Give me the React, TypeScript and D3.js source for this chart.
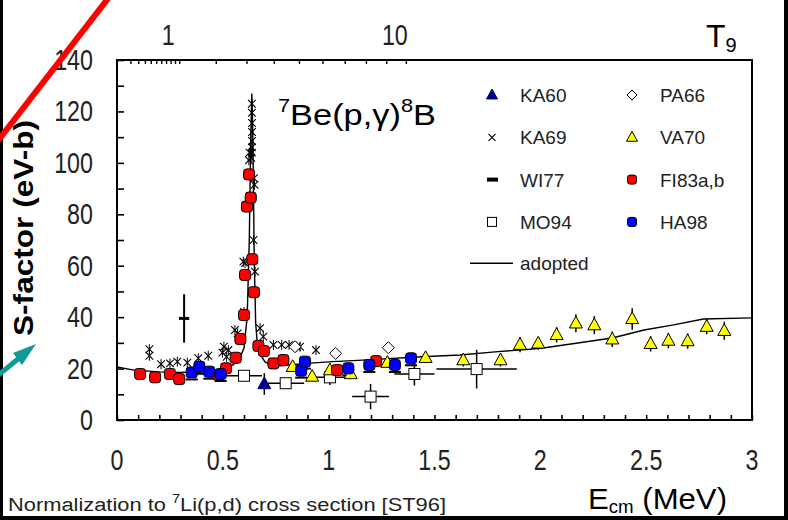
import { useEffect, useRef } from 'react'
import * as d3 from 'd3'

// adopted S-factor curve (E in MeV, S in eV-b)
const adoptedE = [0, 0.08, 0.2, 0.3, 0.4, 0.5, 0.55, 0.58, 0.6, 0.615, 0.625, 0.632, 0.637, 0.642, 0.648, 0.655, 0.665, 0.7, 0.75, 0.8, 0.93, 1.02, 1.16, 1.44, 1.62, 1.8, 1.95, 2.03, 2.34, 2.49, 2.63, 2.77, 3.0]
const adoptedS = [20.6, 19.4, 18.7, 18.5, 18.8, 19.8, 21.5, 24, 28, 40, 70, 110, 127, 110, 65, 38, 27, 22.5, 21, 21.3, 22.2, 22.7, 23.3, 24.6, 25.3, 26.6, 27.5, 28.2, 31.9, 35, 37, 39.3, 39.7]

const ka60: [number, number, number][] = [[0.696, 14.0, 4.2]]

const ka69: [number, number][] = [
  [0.153, 25], [0.153, 27.5], [0.208, 21.7], [0.25, 22], [0.285, 22.7], [0.332, 22.3],
  [0.384, 24], [0.431, 25], [0.498, 26.2], [0.505, 28.5], [0.518, 24.6], [0.526, 27.2],
  [0.557, 35], [0.57, 33.7], [0.6, 42], [0.597, 61.6], [0.605, 61], [0.645, 70],
  [0.652, 57.7], [0.647, 94], [0.65, 91.5], [0.626, 104], [0.623, 101], [0.634, 102],
  [0.637, 104], [0.637, 106], [0.638, 108.5], [0.638, 112], [0.638, 115.5], [0.637, 119.5],
  [0.637, 123], [0.676, 35.7], [0.691, 32.4], [0.739, 29.2], [0.778, 29.2], [0.813, 29.2],
  [0.849, 28.5], [0.865, 28.5], [0.94, 27.2],
]

const wi77: [number, number, number, number][] = [[0.317, 39.5, 0.024, 9.4]]

const mo94: [number, number, number, number][] = [
  [0.6, 17.2, 0.085, 0], [0.797, 14.3, 0.087, 0], [1.006, 16.6, 0.08, 3],
  [1.198, 9.1, 0.087, 4.9], [1.405, 17.9, 0.095, 4.5], [1.699, 19.8, 0.19, 7.5],
]

const pa66: [number, number][] = [[0.841, 28.5], [1.033, 25.9], [1.282, 28.1]]

const va70: [number, number, number][] = [
  [0.83, 20.7, 1.5], [0.922, 16.9, 1.5], [1.006, 19.4, 2], [1.104, 17.9, 1.5], [1.277, 22.3, 2],
  [1.458, 24.2, 2], [1.636, 23.3, 2.5], [1.812, 23.3, 2.5], [1.904, 29.3, 3], [1.99, 29.8, 2.5],
  [2.077, 33.1, 3], [2.168, 37.6, 3.5], [2.255, 36.9, 3.5], [2.34, 31.4, 3], [2.434, 39.3, 4.2],
  [2.521, 29.6, 3], [2.605, 30.9, 3], [2.696, 30.7, 3], [2.786, 36.3, 3], [2.869, 34.7, 3.5],
]

const fi83: [number, number][] = [
  [0.109, 17.9], [0.18, 16.6], [0.25, 17.9], [0.294, 15.9], [0.479, 17.5], [0.515, 20.1],
  [0.561, 24.2], [0.583, 31.5], [0.6, 40.8], [0.605, 56.4], [0.614, 83], [0.624, 95.5],
  [0.632, 86.5], [0.639, 62.5], [0.647, 49.7], [0.668, 28.8], [0.694, 26.8], [0.739, 22],
  [0.786, 23.3], [1.04, 19.4], [1.224, 22.9],
]

const ha98: [number, number][] = [
  [0.353, 18.5], [0.389, 20.7], [0.436, 18.8], [0.49, 17.9], [0.87, 19.2], [0.888, 22.7],
  [1.093, 20.1], [1.192, 21.4], [1.313, 21.4], [1.389, 24.0],
]

const xTickLabels = [0, 0.5, 1, 1.5, 2, 2.5, 3]
const yTickLabels = [0, 20, 40, 60, 80, 100, 120, 140]
const t9Ticks = [0.1, 0.2, 0.3, 0.4, 0.5, 0.6, 0.7, 0.8, 0.9, 1, 2, 3, 4, 5, 6, 7, 8, 9, 10]
const t9Labels = [1, 10]

const legendCol1 = ['KA60', 'KA69', 'WI77', 'MO94']
const legendCol2 = ['PA66', 'VA70', 'FI83a,b', 'HA98']

const WIDTH = 788
const HEIGHT = 520
const PLOT = { left: 117, right: 752, top: 60, bottom: 420 }
const SANS = "'Liberation Sans', Arial, sans-serif"
const GAMOW = 0.294 // E0 = 0.294 * T9^(2/3) MeV

type G = d3.Selection<SVGGElement, unknown, null, undefined>

function triangle(g: G, cx: number, cy: number, w: number, fill: string, stroke: string) {
  const h = w * 0.9
  g.append('path')
    .attr('d', `M${cx},${cy - h * 0.6}L${cx + w / 2},${cy + h * 0.4}L${cx - w / 2},${cy + h * 0.4}Z`)
    .attr('fill', fill)
    .attr('stroke', stroke)
    .attr('stroke-width', 1)
}

function square(g: G, cx: number, cy: number, s: number, fill: string, rx: number) {
  g.append('rect')
    .attr('x', cx - s / 2)
    .attr('y', cy - s / 2)
    .attr('width', s)
    .attr('height', s)
    .attr('rx', rx)
    .attr('fill', fill)
    .attr('stroke', '#000')
    .attr('stroke-width', 1)
}

function times(g: G, cx: number, cy: number, r: number) {
  g.append('path')
    .attr('d', `M${cx - r},${cy - r}L${cx + r},${cy + r}M${cx - r},${cy + r}L${cx + r},${cy - r}`)
    .attr('stroke', '#000')
    .attr('stroke-width', 1.1)
    .attr('fill', 'none')
}

function diamond(g: G, cx: number, cy: number, r: number) {
  g.append('path')
    .attr('d', `M${cx},${cy - r}L${cx + r},${cy}L${cx},${cy + r}L${cx - r},${cy}Z`)
    .attr('fill', '#fff')
    .attr('stroke', '#000')
    .attr('stroke-width', 1)
}

// tall, narrow-looking tick label like the original slide
function tallLabel(g: G, x: number, y: number, text: string, anchor: string) {
  g.append('text')
    .attr('transform', `translate(${x},${y}) scale(0.97,1.2)`)
    .attr('text-anchor', anchor)
    .attr('font-family', SANS)
    .attr('font-size', 24)
    .attr('fill', '#222')
    .text(text)
}

export default function App() {
  const svgRef = useRef<SVGSVGElement | null>(null)

  useEffect(() => {
    if (!svgRef.current) {
      return
    }
    const svg = d3.select(svgRef.current)
    svg.selectAll('*').remove()

    const x = d3.scaleLinear().domain([0, 3]).range([PLOT.left, PLOT.right])
    const y = d3.scaleLinear().domain([0, 140]).range([PLOT.bottom, PLOT.top])
    const tMax = Math.pow(3 / GAMOW, 1.5)
    const xTop = d3.scalePow().exponent(2 / 3).domain([0, tMax]).range([PLOT.left, PLOT.right])

    const root = svg.append('g') as G

    root.append('rect').attr('width', WIDTH).attr('height', HEIGHT).attr('fill', '#fff')

    // axes (tick marks inside the frame)
    const yAxis = root
      .append('g')
      .attr('transform', `translate(${PLOT.left},0)`)
      .call(d3.axisLeft(y).tickValues(d3.range(0, 141, 10)).tickSize(-7).tickSizeOuter(0).tickFormat(() => ''))
    yAxis.select('.domain').remove()
    yAxis.selectAll('line').attr('stroke', '#000').attr('stroke-width', 1.6)

    const xAxis = root
      .append('g')
      .attr('transform', `translate(0,${PLOT.bottom})`)
      .call(
        d3
          .axisBottom(x)
          .tickValues(d3.range(0, 31).map((d) => d / 10))
          .tickSize(-5)
          .tickSizeOuter(0)
          .tickFormat(() => ''),
      )
    xAxis.select('.domain').remove()
    xAxis.selectAll('line').attr('stroke', '#000').attr('stroke-width', 1.6)

    const topAxis = root
      .append('g')
      .attr('transform', `translate(0,${PLOT.top})`)
      .call(d3.axisTop(xTop).tickValues(t9Ticks).tickSize(-4).tickSizeOuter(0).tickFormat(() => ''))
    topAxis.select('.domain').remove()
    topAxis.selectAll('line').attr('stroke', '#000').attr('stroke-width', 1.4)

    const labels = root.append('g') as G
    yTickLabels.forEach((v) => tallLabel(labels, 93, y(v) + 10, String(v), 'end'))
    xTickLabels.forEach((v) => tallLabel(labels, x(v), 470, d3.format('~g')(v), 'middle'))
    t9Labels.forEach((v) => tallLabel(labels, xTop(v) - 11, 45, String(v), 'middle'))

    // frame
    root
      .append('rect')
      .attr('x', PLOT.left)
      .attr('y', PLOT.top)
      .attr('width', PLOT.right - PLOT.left)
      .attr('height', PLOT.bottom - PLOT.top)
      .attr('fill', 'none')
      .attr('stroke', '#000')
      .attr('stroke-width', 2)

    // adopted curve
    const line = d3
      .line<number>()
      .x((d) => x(adoptedE[d]))
      .y((d) => y(adoptedS[d]))
    root
      .append('path')
      .attr('d', line(d3.range(adoptedE.length)))
      .attr('fill', 'none')
      .attr('stroke', '#000')
      .attr('stroke-width', 1.4)

    const marks = root.append('g') as G

    // error bars
    const bar = (g: G, x1: number, y1: number, x2: number, y2: number, w: number) =>
      g
        .append('line')
        .attr('x1', x1)
        .attr('y1', y1)
        .attr('x2', x2)
        .attr('y2', y2)
        .attr('stroke', '#000')
        .attr('stroke-width', w)

    va70.forEach(([e, s, ds]) => bar(marks, x(e), y(s + ds), x(e), y(s - ds), 1.5))
    mo94.forEach(([e, s, de, ds]) => {
      bar(marks, x(e - de), y(s), x(e + de), y(s), 1.5)
      if (ds > 0) bar(marks, x(e), y(s + ds), x(e), y(s - ds), 1.5)
    })
    ka60.forEach(([e, s, ds]) => bar(marks, x(e), y(s + ds), x(e), y(s - ds), 1.5))
    wi77.forEach(([e, s, de, ds]) => {
      bar(marks, x(e), y(s + ds), x(e), y(s - ds), 2)
      bar(marks, x(e - de), y(s), x(e + de), y(s), 3)
    })
    ha98.forEach(([e, s]) => bar(marks, x(e) - 6, y(s) + 7, x(e) + 6, y(s) + 7, 2))
    ka69.forEach(([e, s]) => bar(marks, x(e), y(s) - 5, x(e), y(s) + 5, 1))

    // markers
    ka69.forEach(([e, s]) => times(marks, x(e), y(s), 3.8))
    pa66.forEach(([e, s]) => diamond(marks, x(e), y(s), 6))
    mo94.forEach(([e, s]) => square(marks, x(e), y(s), 11, '#fff', 0))
    va70.forEach(([e, s]) => triangle(marks, x(e), y(s), 13, '#ffff00', '#000'))
    fi83.forEach(([e, s]) => square(marks, x(e), y(s), 11, '#ff0000', 3))
    ha98.forEach(([e, s]) => square(marks, x(e), y(s), 11, '#0000ff', 3))
    ka60.forEach(([e, s]) => triangle(marks, x(e), y(s), 13, '#000080', '#000080'))

    // legend
    const legend = root.append('g') as G
    const rowY = (i: number) => 95 + i * 42.3
    const legendText = (tx: number, ty: number, name: string) =>
      legend.append('text').attr('x', tx).attr('y', ty).attr('font-family', SANS).attr('font-size', 19).attr('fill', '#222').text(name)
    legendCol1.forEach((name, i) => {
      const cy = rowY(i)
      if (i === 0) triangle(legend, 492, cy, 11, '#000080', '#000080')
      if (i === 1) times(legend, 492, cy, 3.5)
      if (i === 2) legend.append('rect').attr('x', 487).attr('y', cy - 2).attr('width', 11).attr('height', 4).attr('fill', '#000')
      if (i === 3) square(legend, 492, cy, 9, '#fff', 0)
      legendText(520, cy + 7, name)
    })
    legendCol2.forEach((name, i) => {
      const cy = rowY(i)
      if (i === 0) diamond(legend, 632, cy, 5)
      if (i === 1) triangle(legend, 632, cy, 11, '#ffff00', '#000')
      if (i === 2) square(legend, 632, cy, 9, '#ff0000', 2.5)
      if (i === 3) square(legend, 632, cy, 9, '#0000ff', 2.5)
      legendText(660, cy + 7, name)
    })
    const adoptedY = rowY(4) - 1
    bar(legend, 470, adoptedY, 513, adoptedY, 1.4)
    legendText(520, adoptedY + 7, 'adopted')

    // reaction title
    const title = root
      .append('text')
      .attr('x', 278)
      .attr('y', 125)
      .attr('font-family', SANS)
      .attr('font-size', 30)
      .attr('fill', '#000')
      .attr('textLength', 158)
      .attr('lengthAdjust', 'spacingAndGlyphs')
    title.append('tspan').attr('font-size', 19).attr('dy', -13).text('7')
    title.append('tspan').attr('dy', 13).text('Be(p,γ)')
    title.append('tspan').attr('font-size', 19).attr('dy', -13).text('8')
    title.append('tspan').attr('dy', 13).text('B')

    // axis titles
    const t9 = root.append('text').attr('x', 706).attr('y', 47).attr('font-family', SANS).attr('font-size', 32).attr('fill', '#000')
    t9.append('tspan').text('T')
    t9.append('tspan').attr('font-size', 20).attr('dy', 5).text('9')

    const ecm = root
      .append('text')
      .attr('x', 588)
      .attr('y', 509)
      .attr('font-family', SANS)
      .attr('font-size', 30)
      .attr('fill', '#000')
      .attr('textLength', 139)
      .attr('lengthAdjust', 'spacingAndGlyphs')
    ecm.append('tspan').text('E')
    ecm.append('tspan').attr('font-size', 18).attr('dy', 4).text('cm')
    ecm.append('tspan').attr('dy', -4).text(' (MeV)')

    root
      .append('text')
      .attr('transform', 'translate(33,228) rotate(-90)')
      .attr('text-anchor', 'middle')
      .attr('font-family', SANS)
      .attr('font-weight', 'bold')
      .attr('font-size', 27)
      .attr('fill', '#000')
      .attr('textLength', 216)
      .attr('lengthAdjust', 'spacingAndGlyphs')
      .text('S-factor (eV-b)')

    const note = root
      .append('text')
      .attr('x', 8)
      .attr('y', 511)
      .attr('font-family', SANS)
      .attr('font-size', 18)
      .attr('fill', '#222')
      .attr('textLength', 438)
      .attr('lengthAdjust', 'spacingAndGlyphs')
    note.append('tspan').text('Normalization to ')
    note.append('tspan').attr('font-size', 12).attr('dy', -8).text('7')
    note.append('tspan').attr('dy', 8).text('Li(p,d) cross section [ST96]')

    // slide decorations
    root.append('rect').attr('x', 0).attr('y', 0).attr('width', 3).attr('height', HEIGHT).attr('fill', '#000')
    root.append('rect').attr('x', 0).attr('y', 516).attr('width', WIDTH).attr('height', 4).attr('fill', '#000')
    root.append('rect').attr('x', 784).attr('y', 0).attr('width', 4).attr('height', HEIGHT).attr('fill', '#000')
    root
      .append('line')
      .attr('x1', -20)
      .attr('y1', 164)
      .attr('x2', 120)
      .attr('y2', -17)
      .attr('stroke', '#ff0000')
      .attr('stroke-width', 6)
    root
      .append('line')
      .attr('x1', -4)
      .attr('y1', 377)
      .attr('x2', 18)
      .attr('y2', 359)
      .attr('stroke', '#0f9a96')
      .attr('stroke-width', 5)
    root.append('path').attr('d', 'M36,344L13,353L22,365Z').attr('fill', '#0f9a96')
  }, [])

  return (
    <svg
      ref={svgRef}
      width={WIDTH}
      height={HEIGHT}
      style={{ position: 'absolute', left: 0, top: 0 }}
      role="img"
      aria-label="S-factor of 7Be(p,gamma)8B versus centre-of-mass energy"
    />
  )
}
